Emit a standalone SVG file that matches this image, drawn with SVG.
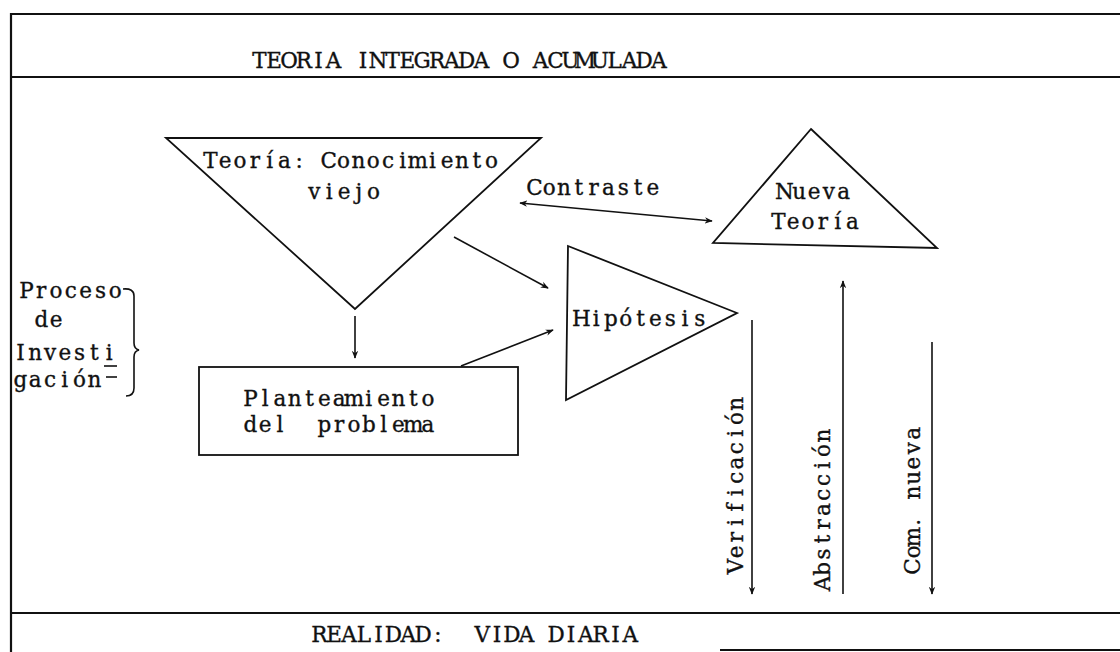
<svg xmlns="http://www.w3.org/2000/svg" width="1120" height="652" viewBox="0 0 1120 652">
<defs>
  <marker id="ah" viewBox="0 0 10 10" refX="9" refY="5" markerWidth="8" markerHeight="8" markerUnits="userSpaceOnUse" orient="auto-start-reverse">
    <path d="M0,1 L10,5 L0,9 L3,5 Z" fill="#111"/>
  </marker>
</defs>
<style>
  .t{font-family:"DejaVu Serif","Liberation Serif",serif;font-size:21.5px;fill:#111;stroke:#111;stroke-width:0.35;text-anchor:middle;white-space:pre}
  .s{fill:none;stroke:#111;stroke-width:1.8;stroke-linejoin:miter}
  .f{fill:none;stroke:#111;stroke-width:2.2}
  .c{fill:none;stroke:#111;stroke-width:1.6}
</style>
<rect width="1120" height="652" fill="#ffffff"/>

<g id="frame">
  <line class="f" x1="11" y1="14" x2="1120" y2="14"/>
  <line class="f" x1="11" y1="77" x2="1120" y2="77"/>
  <line class="f" x1="11" y1="613" x2="1120" y2="613"/>
  <line class="f" x1="720" y1="650" x2="1120" y2="650"/>
  <line class="f" x1="11" y1="13" x2="11" y2="652"/>
</g>

<g id="header">
  <text class="t" transform="translate(252,68)" y="0" x="7.4 22.2 37 51.8 66.6 81.4 96.2 111 125.8 140.6 155.4 170.2 185 199.8 214.6 229.4 244.2 259 273.8 288.6 303.4 318.2 333 347.8 362.6 377.4 392.2 407">TEORIA INTEGRADA O ACUMULADA</text>
</g>

<g id="realidad">
  <text class="t" transform="translate(312,642)" y="0" xml:space="preserve" x="7.4 22.2 37 51.8 66.6 81.4 96.2 111 125.8 140.6 155.4 170.2 185 199.8 214.6 229.4 244.2 259 273.8 288.6 303.4 318.2">REALIDAD:  VIDA DIARIA</text>
</g>

<g id="proceso">
  <text class="t" transform="translate(19,298)" y="0" x="7.4 22.2 37 51.8 66.6 81.4 96.2">Proceso</text>
  <text class="t" transform="translate(34,327)" y="0" x="7.4 22.2">de</text>
  <text class="t" transform="translate(13,360)" y="0" x="7.4 22.2 37 51.8 66.6 81.4 96.2">Investi</text>
  <text class="t" transform="translate(13,387)" y="0" x="7.4 22.2 37 51.8 66.6 81.4">gación</text>
  <line class="c" x1="104" y1="366" x2="117" y2="366"/>
  <line class="c" x1="106" y1="377" x2="117" y2="377"/>
  <path class="c" d="M123,289 Q134,288 134,296 L134,343 Q134,349 139,350 Q134,351 134,357 L134,388 Q134,396 126,396"/>
</g>

<g id="teoria-vieja">
  <polygon class="s" points="166,138 541,138 355,309"/>
  <text class="t" transform="translate(203,168)" y="0" x="7.4 22.2 37 51.8 66.6 81.4 96.2 111 125.8 140.6 155.4 170.2 185 199.8 214.6 229.4 244.2 259 273.8 288.6">Teoría: Conocimiento</text>
  <text class="t" transform="translate(307,199)" y="0" x="7.4 22.2 37 51.8 66.6">viejo</text>
</g>

<g id="nueva-teoria">
  <polygon class="s" points="811,129 937,248 713,243"/>
  <text class="t" transform="translate(777,199)" y="0" x="7.4 22.2 37 51.8 66.6">Nueva</text>
  <text class="t" transform="translate(771,229)" y="0" x="7.4 22.2 37 51.8 66.6 81.4">Teoría</text>
</g>

<g id="hipotesis">
  <polygon class="s" points="568,246 737,313 566,400"/>
  <text class="t" transform="translate(574,326)" y="0" x="7.4 22.2 37 51.8 66.6 81.4 96.2 111 125.8">Hipótesis</text>
</g>

<g id="planteamiento">
  <rect class="s" x="199" y="367" width="319" height="88"/>
  <text class="t" transform="translate(243,406)" y="0" x="7.4 22.2 37 51.8 66.6 81.4 96.2 111 125.8 140.6 155.4 170.2 185">Planteamiento</text>
  <text class="t" transform="translate(243,432)" y="0" xml:space="preserve" x="7.4 22.2 37 51.8 66.6 81.4 96.2 111 125.8 140.6 155.4 170.2 185">del  problema</text>
</g>

<g id="connectors">
  <line class="c" x1="454" y1="237" x2="548" y2="288" marker-end="url(#ah)"/>
  <line class="c" x1="461" y1="366" x2="553" y2="330" marker-end="url(#ah)"/>
  <line class="c" x1="355" y1="316" x2="355" y2="358" marker-end="url(#ah)"/>
  <line class="c" x1="520" y1="203" x2="712" y2="221" marker-start="url(#ah)" marker-end="url(#ah)"/>
  <line class="c" x1="752" y1="320" x2="752" y2="594" marker-end="url(#ah)"/>
  <line class="c" x1="843" y1="594" x2="843" y2="281" marker-end="url(#ah)"/>
  <line class="c" x1="932" y1="342" x2="932" y2="594" marker-end="url(#ah)"/>
</g>

<g id="labels">
  <text class="t" transform="translate(527,195)" y="0" x="7.4 22.2 37 51.8 66.6 81.4 96.2 111 125.8">Contraste</text>
  <text class="t" transform="translate(743,574) rotate(-90)" y="0" x="7.4 22.2 37 51.8 66.6 81.4 96.2 111 125.8 140.6 155.4 170.2">Verificación</text>
  <text class="t" transform="translate(830,591) rotate(-90)" y="0" x="7.4 22.2 37 51.8 66.6 81.4 96.2 111 125.8 140.6 155.4">Abstracción</text>
  <text class="t" transform="translate(920,574) rotate(-90)" y="0" x="7.4 22.2 37 51.8 66.6 81.4 96.2 111 125.8 140.6">Com. nueva</text>
</g>
</svg>
